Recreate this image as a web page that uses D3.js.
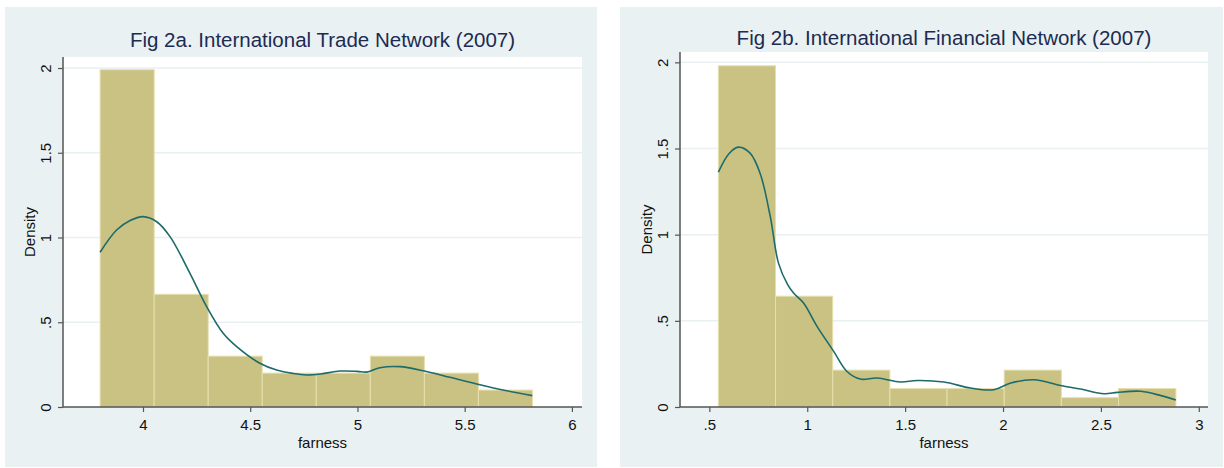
<!DOCTYPE html>
<html>
<head>
<meta charset="utf-8">
<script src="https://cdn.jsdelivr.net/npm/d3@7"></script>
<style>
  body { margin: 0; background: #fff; }
  text { font-family: Arial, "Liberation Sans", sans-serif; }
</style>
</head>
<body>
<div id="content"></div>
<script>
// histogram + kernel density, two panels
var w = 1224,
    h = 468;

// --- Fig 2a: trade network
var tradeBins = [3.800, 4.052, 4.304, 4.556, 4.808, 5.060, 5.312, 5.564, 5.816];
var tradeDensity = [1.99, 0.665, 0.30, 0.20, 0.20, 0.30, 0.20, 0.10];
var tradeKdeX = [3.80, 3.877, 3.94, 4.00, 4.064, 4.126, 4.219, 4.297, 4.374, 4.437, 4.545, 4.623, 4.70, 4.763, 4.83, 4.918, 5.00, 5.043, 5.105, 5.198, 5.307, 5.431, 5.556, 5.696, 5.815];
var tradeKdeY = [0.913, 1.044, 1.10, 1.123, 1.093, 1.005, 0.789, 0.592, 0.435, 0.356, 0.258, 0.218, 0.198, 0.189, 0.195, 0.212, 0.210, 0.206, 0.232, 0.238, 0.214, 0.175, 0.136, 0.096, 0.067];
var tradeXTicks = [4, 4.5, 5, 5.5, 6];
var tradeXLabels = ["4", "4.5", "5", "5.5", "6"];

// --- Fig 2b: financial network
var finBins = [0.546, 0.838, 1.130, 1.422, 1.714, 2.006, 2.298, 2.590, 2.883];
var finDensity = [1.98, 0.643, 0.214, 0.107, 0.107, 0.214, 0.054, 0.107];
var finKdeX = [0.546, 0.60, 0.648, 0.708, 0.759, 0.811, 0.853, 0.90, 0.930, 0.981, 1.050, 1.135, 1.203, 1.271, 1.357, 1.476, 1.561, 1.698, 1.834, 1.953, 2.039, 2.158, 2.295, 2.397, 2.516, 2.585, 2.704, 2.807, 2.883];
var finKdeY = [1.363, 1.47, 1.508, 1.473, 1.357, 1.106, 0.835, 0.71, 0.661, 0.603, 0.468, 0.323, 0.206, 0.162, 0.168, 0.145, 0.154, 0.145, 0.110, 0.100, 0.139, 0.158, 0.125, 0.104, 0.077, 0.085, 0.091, 0.066, 0.041];
var finXTicks = [0.5, 1, 1.5, 2, 2.5, 3];
var finXLabels = [".5", "1", "1.5", "2", "2.5", "3"];

var yTicks = [0, 0.5, 1, 1.5, 2];
var yLabels = ["0", ".5", "1", "1.5", "2"];

var panels = [
  { title: "Fig 2a. International Trade Network (2007)",
    bins: tradeBins, dens: tradeDensity, kx: tradeKdeX, ky: tradeKdeY,
    xt: tradeXTicks, xl: tradeXLabels,
    bg: [5, 7, 592, 460], plot: [63, 57, 582, 407],
    xDom: [3.627, 6.047], yTop: 2.065, titleY: 47 },
  { title: "Fig 2b. International Financial Network (2007)",
    bins: finBins, dens: finDensity, kx: finKdeX, ky: finKdeY,
    xt: finXTicks, xl: finXLabels,
    bg: [620, 7, 603, 460], plot: [680, 52, 1208, 407],
    xDom: [0.35, 3.047], yTop: 2.06, titleY: 45 }
];

var svg = d3.select("#content")
    .append("svg")
    .attr("width", w)
    .attr("height", h);

panels.forEach(drawPanel);

function drawPanel(p) {
  var g = svg.append("g");
  var x0 = p.plot[0], y0 = p.plot[1], x1 = p.plot[2], y1 = p.plot[3];

  var x = d3.scaleLinear().domain(p.xDom).range([x0, x1]);
  var y = d3.scaleLinear().domain([0, p.yTop]).range([y1, y0]);

  // panel background
  g.append("rect")
      .attr("x", p.bg[0]).attr("y", p.bg[1])
      .attr("width", p.bg[2]).attr("height", p.bg[3])
      .attr("fill", "#eaf1f3");

  g.append("rect")
      .attr("x", x0).attr("y", y0)
      .attr("width", x1 - x0).attr("height", y1 - y0)
      .attr("fill", "#fff");

  // gridlines
  g.selectAll(".grid")
      .data(yTicks.slice(1))
      .enter().append("line")
      .attr("x1", x0).attr("x2", x1)
      .attr("y1", function(d) { return y(d); })
      .attr("y2", function(d) { return y(d); })
      .attr("stroke", "#e8f0f2")
      .attr("stroke-width", 1.5);

  // bars
  g.selectAll(".bar")
      .data(p.dens)
      .enter().append("rect")
      .attr("x", function(d, i) { return x(p.bins[i]); })
      .attr("width", function(d, i) { return x(p.bins[i + 1]) - x(p.bins[i]); })
      .attr("y", function(d) { return y(d); })
      .attr("height", function(d) { return y(0) - y(d); })
      .attr("fill", "#cac283")
      .attr("stroke", "#e6dfae")
      .attr("stroke-width", 1);

  // kernel density line
  var line = d3.line()
      .x(function(d, i) { return x(p.kx[i]); })
      .y(function(d) { return y(d); })
      .curve(d3.curveCatmullRom);

  g.append("path")
      .attr("d", line(p.ky))
      .attr("fill", "none")
      .attr("stroke", "#1d6b6a")
      .attr("stroke-width", 1.6);

  // y axis
  var yAxis = g.append("g")
      .attr("transform", "translate(" + x0 + ",0)")
      .call(d3.axisLeft(y).tickValues(yTicks).tickSize(5).tickFormat(function(d, i) { return yLabels[i]; }));
  yAxis.select(".domain").attr("d", "M0," + y0 + "V" + y1).attr("stroke", "#555").attr("stroke-width", 1.5);
  yAxis.selectAll(".tick line").attr("stroke", "#555").attr("stroke-width", 1.2);
  yAxis.selectAll(".tick text")
      .attr("x", null).attr("dy", null)
      .attr("transform", "translate(-12,0) rotate(-90)")
      .attr("text-anchor", "middle")
      .attr("font-size", 15)
      .attr("font-family", "Arial, 'Liberation Sans', sans-serif")
      .attr("fill", "#111");

  // x axis
  var xAxis = g.append("g")
      .attr("transform", "translate(0," + y1 + ")")
      .call(d3.axisBottom(x).tickValues(p.xt).tickSize(5).tickFormat(function(d, i) { return p.xl[i]; }));
  xAxis.select(".domain").attr("d", "M" + x0 + ",0H" + x1).attr("stroke", "#555").attr("stroke-width", 1.5);
  xAxis.selectAll(".tick line").attr("stroke", "#555").attr("stroke-width", 1.2);
  xAxis.selectAll(".tick text")
      .attr("y", 23).attr("dy", null)
      .attr("font-size", 15)
      .attr("font-family", "Arial, 'Liberation Sans', sans-serif")
      .attr("fill", "#111");

  // labels
  g.append("text")
      .attr("x", (x0 + x1) / 2).attr("y", 448)
      .attr("text-anchor", "middle")
      .attr("font-size", 15)
      .attr("fill", "#111")
      .text("farness");

  g.append("text")
      .attr("transform", "translate(" + (x0 - 28) + "," + ((y0 + y1) / 2) + ") rotate(-90)")
      .attr("text-anchor", "middle")
      .attr("font-size", 15)
      .attr("fill", "#111")
      .text("Density");

  g.append("text")
      .attr("x", (x0 + x1) / 2).attr("y", p.titleY)
      .attr("text-anchor", "middle")
      .attr("font-size", 20.5)
      .attr("fill", "#1c2b52")
      .text(p.title);
}
</script>
</body>
</html>
